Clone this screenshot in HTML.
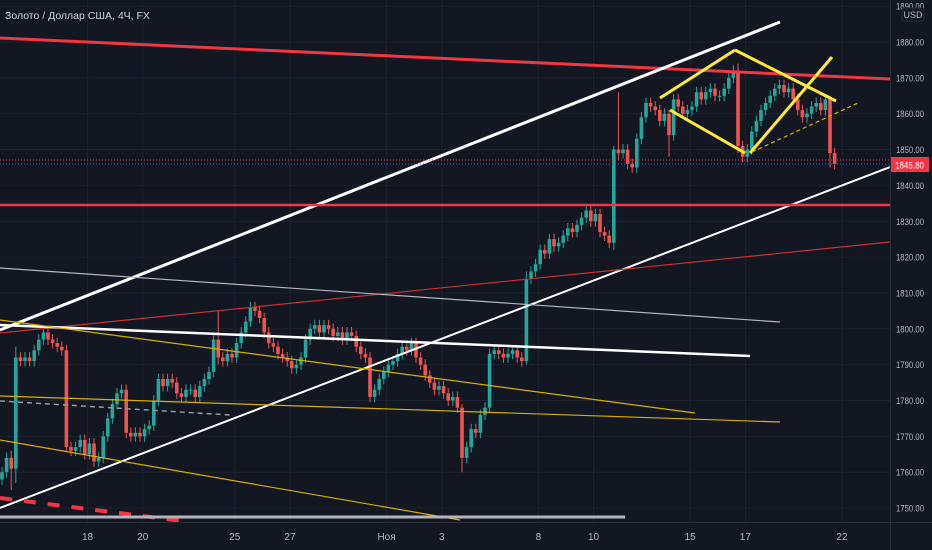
<!DOCTYPE html>
<html><head><meta charset="utf-8"><style>
html,body{margin:0;padding:0;background:#131722;}
svg{display:block;font-family:"Liberation Sans",sans-serif;}
</style></head><body>
<svg id="c" width="932" height="550" viewBox="0 0 932 550">
<rect width="932" height="550" fill="#131722"/>
<g id="grid"></g>
<g id="candles"></g>
<g id="draw" fill="none">
<line x1="0" y1="38" x2="890" y2="79" stroke="#f23645" stroke-width="3"/>
<line x1="0" y1="330" x2="780" y2="22" stroke="#ffffff" stroke-width="3"/>
<line x1="0" y1="508" x2="890" y2="167" stroke="#ffffff" stroke-width="2"/>
<line x1="0" y1="205" x2="890" y2="205" stroke="#f23645" stroke-width="2.5"/>
<line x1="0" y1="333" x2="890" y2="242" stroke="#c8312f" stroke-width="1.2"/>
<line x1="0" y1="268" x2="780" y2="322" stroke="#b2b5be" stroke-width="1.2"/>
<line x1="0" y1="325" x2="750" y2="356" stroke="#ffffff" stroke-width="2.5"/>
<line x1="0" y1="320" x2="695" y2="413" stroke="#d4b000" stroke-width="1.2"/>
<line x1="0" y1="396" x2="780" y2="422" stroke="#d4b000" stroke-width="1.2"/>
<line x1="0" y1="440" x2="460" y2="520" stroke="#d4b000" stroke-width="1.2"/>
<line x1="0" y1="401" x2="230" y2="415" stroke="#9598a1" stroke-width="1.5" stroke-dasharray="5 4"/>
<line x1="0" y1="498" x2="190" y2="522" stroke="#f23645" stroke-width="4" stroke-dasharray="12 12"/>
<line x1="0" y1="517" x2="625" y2="517" stroke="#b2b5be" stroke-width="3"/>
<line x1="0" y1="160" x2="890" y2="160" stroke="#f23645" stroke-width="1" stroke-dasharray="1 2"/>
<line x1="0" y1="164" x2="890" y2="164" stroke="#2962ff" stroke-width="1" stroke-dasharray="1 2"/>
<line x1="660" y1="98" x2="735" y2="50" stroke="#ffeb3b" stroke-width="3"/>
<line x1="735" y1="50" x2="836" y2="101" stroke="#ffeb3b" stroke-width="3"/>
<line x1="670" y1="110" x2="745" y2="153" stroke="#ffeb3b" stroke-width="3"/>
<line x1="750" y1="153" x2="832" y2="57" stroke="#ffeb3b" stroke-width="3"/>
<line x1="752" y1="152" x2="858" y2="103" stroke="#d4b000" stroke-width="1.2" stroke-dasharray="4 3"/>
</g>
<rect x="890" y="0" width="42" height="550" fill="#131722"/>
<rect x="0" y="522" width="932" height="28" fill="#131722"/>
<line x1="890.5" y1="0" x2="890.5" y2="550" stroke="#2a2e39"/>
<line x1="0" y1="522.5" x2="932" y2="522.5" stroke="#2a2e39"/>
<g id="yaxis" fill="#b2b5be" font-size="9.5"></g>
<g id="xaxis" fill="#b2b5be" font-size="10"></g>
<rect x="902" y="8" width="22" height="13" rx="2" fill="#131722" stroke="#2a2e39"/>
<text x="913" y="18" fill="#b2b5be" font-size="9" text-anchor="middle">USD</text>
<rect x="891" y="157" width="38" height="15" fill="#f23645"/>
<text x="895" y="168.5" fill="#ffffff" font-size="9.5" textLength="29" lengthAdjust="spacingAndGlyphs">1845.80</text>
<text x="5" y="19" fill="#d1d4dc" font-size="10.5">Золото / Доллар США, 4Ч, FX</text>
</svg>
<script>
const closes=[1760,1764,1761,1792,1791,1792,1791,1794,1797,1799,1797,1796,1795,1794,1767,1766,1767,1769,1765,1768,
1763,1764,1770,1775,1779,1782,1783,1771,1770,1771,1770,1772,1773,1780,1786,1784,1786,1785,1782,1781,
1783,1783,1781,1784,1786,1788,1797,1792,1791,1793,1792,1796,1799,1802,1806,1805,1803,1799,1796,1795,
1793,1792,1791,1789,1790,1792,1797,1800,1801,1799,1801,1800,1798,1799,1797,1799,1798,1795,1793,1792,
1781,1783,1786,1788,1790,1791,1793,1795,1794,1796,1792,1790,1787,1785,1783,1784,1782,1780,1781,1778,
1764,1767,1772,1771,1776,1778,1793,1794,1793,1792,1793,1794,1792,1791,1814,1816,1818,1822,1821,1825,
1823,1824,1826,1828,1827,1829,1831,1833,1830,1832,1827,1826,1824,1850,1849,1850,1846,1845,1853,1859,
1863,1862,1861,1858,1860,1854,1864,1862,1860,1861,1862,1866,1864,1866,1867,1865,1865,1867,1870,1872,
1851,1848,1850,1855,1858,1861,1863,1865,1867,1868,1866,1867,1864,1861,1859,1860,1862,1863,1861,1864,
1849,1846];
const firstOpen=1758;
const spikeIdx=[2,3,47,100,114,133,134,145,160,180];
const spikeHi=[2,3,8,1,2,1,16,1,2,1];
const spikeLo=[6,4,2,4,1,2,2,6,2,4];
const yTicks=[1890,1880,1870,1860,1850,1840,1830,1820,1810,1800,1790,1780,1770,1760,1750];
const xLabels=["18","20","25","27","Ноя","3","8","10","15","17","22"];
const xLabelIdx=[18,30,50,62,83,95,116,128,149,161,182];
const NS="http://www.w3.org/2000/svg";
const y=p=>42+(1880-p)*3.585;
const x=i=>2+i*4.6;
function mk(t,a,parent){const e=document.createElementNS(NS,t);for(const k in a)e.setAttribute(k,a[k]);parent.appendChild(e);return e;}
const grid=document.getElementById('grid'),cg=document.getElementById('candles'),ya=document.getElementById('yaxis'),xa=document.getElementById('xaxis');
yTicks.forEach(p=>{
 const l=mk('line',{x1:0,x2:890,y1:y(p),y2:y(p),stroke:'#1e222d'},grid);
 
 
 const t=mk('text',{x:896,y:y(p)+3.5,textLength:28,lengthAdjust:'spacingAndGlyphs'},ya);t.textContent=p.toFixed(2);
 
 
});
xLabels.forEach((s,k)=>{
 const xx=x(xLabelIdx[k]+0.6);
 const l=mk('line',{x1:xx,x2:xx,y1:0,y2:522,stroke:'#1e222d'},grid);
 
 
 const t=mk('text',{x:xx,y:540,'text-anchor':'middle'},xa);t.textContent=s;
 
 
});
closes.forEach((c,i)=>{
 const o=i===0?firstOpen:closes[i-1];
 const si=spikeIdx.indexOf(i);
 const hi=Math.max(o,c)+(si>=0?spikeHi[si]:1.5);
 const lo=Math.min(o,c)-(si>=0?spikeLo[si]:1.5);
 const col=c>=o?'#26a69a':'#ef5350';
 const g=mk('g',{},cg);
 
 
 mk('line',{x1:x(i),x2:x(i),y1:y(hi),y2:y(lo),stroke:col,'stroke-width':1},g);
 const top=y(Math.max(o,c)),h=Math.max(1,y(Math.min(o,c))-top);
 mk('rect',{x:x(i)-1.8,y:top,width:3.6,height:h,fill:col},g);
});
</script>
</body></html>
